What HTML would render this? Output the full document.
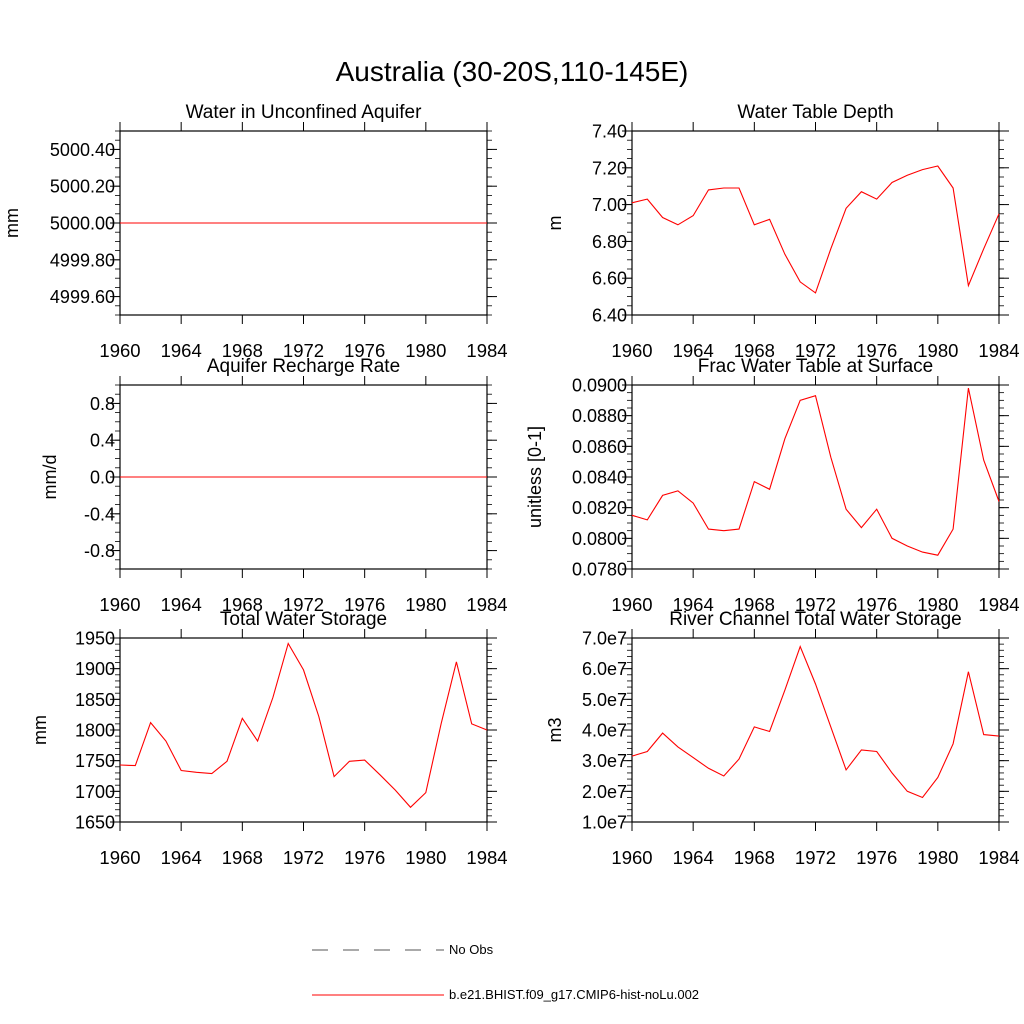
<!DOCTYPE html>
<html><head><meta charset="utf-8"><style>
body{margin:0;background:#fff}
svg{display:block;font-family:"Liberation Sans",sans-serif}
</style></head><body>
<svg id="c" width="1024" height="1024" viewBox="0 0 1024 1024">
<text x="512" y="81" font-size="28" text-anchor="middle">Australia (30-20S,110-145E)</text>
<g>
<line x1="312" y1="950" x2="444" y2="950" stroke="#555" stroke-width="1" stroke-dasharray="16,15"/>
<text x="449" y="954" font-size="13">No Obs</text>
<line x1="312" y1="995" x2="444" y2="995" stroke="#f00" stroke-width="1"/>
<text x="449" y="999" font-size="13">b.e21.BHIST.f09_g17.CMIP6-hist-noLu.002</text>
</g>
</svg>
<script>
const years=[1960,1961,1962,1963,1964,1965,1966,1967,1968,1969,1970,1971,1972,1973,1974,1975,1976,1977,1978,1979,1980,1981,1982,1983,1984];
const xTicks=[1960,1964,1968,1972,1976,1980,1984];
const aquiferVals=years.map(()=>5000.0);
const rechargeVals=years.map(()=>0.0);
const wtdVals=[7.01,7.03,6.93,6.89,6.94,7.08,7.09,7.09,6.89,6.92,6.73,6.58,6.52,6.76,6.98,7.07,7.03,7.12,7.16,7.19,7.21,7.09,6.56,6.76,6.95];
const fracVals=[0.0815,0.0812,0.0828,0.0831,0.0823,0.0806,0.0805,0.0806,0.0837,0.0832,0.0865,0.0890,0.0893,0.0853,0.0819,0.0807,0.0819,0.0800,0.0795,0.0791,0.0789,0.0806,0.0898,0.0851,0.0824];
const twsVals=[1743,1742,1812,1782,1734,1731,1729,1749,1819,1782,1853,1941,1898,1822,1724,1749,1751,1727,1702,1674,1698,1810,1911,1810,1800];
const riverVals=[3.15e7,3.3e7,3.9e7,3.45e7,3.1e7,2.75e7,2.5e7,3.05e7,4.1e7,3.95e7,5.3e7,6.72e7,5.5e7,4.1e7,2.7e7,3.35e7,3.3e7,2.6e7,2.0e7,1.8e7,2.45e7,3.55e7,5.9e7,3.85e7,3.8e7];
const aquiferTicks=["4999.60","4999.80","5000.00","5000.20","5000.40"];
const rechargeTicks=["-0.8","-0.4","0.0","0.4","0.8"];
const wtdTicks=["6.40","6.60","6.80","7.00","7.20","7.40"];
const fracTicks=["0.0780","0.0800","0.0820","0.0840","0.0860","0.0880","0.0900"];
const twsTicks=["1650","1700","1750","1800","1850","1900","1950"];
const riverTicks=["1.0e7","2.0e7","3.0e7","4.0e7","5.0e7","6.0e7","7.0e7"];

const panels=[
 {name:"aquifer",title:"Water in Unconfined Aquifer",ylab:"mm",x0:120,y0:131,min:4999.5,max:5000.5,tv:[4999.6,4999.8,5000,5000.2,5000.4],tl:aquiferTicks,minor:0.05,vals:aquiferVals,lx:10},
 {name:"wtd",title:"Water Table Depth",ylab:"m",x0:632,y0:131,min:6.4,max:7.4,tv:[6.4,6.6,6.8,7.0,7.2,7.4],tl:wtdTicks,minor:0.05,vals:wtdVals,lx:553},
 {name:"recharge",title:"Aquifer Recharge Rate",ylab:"mm/d",x0:120,y0:385,min:-1,max:1,tv:[-0.8,-0.4,0,0.4,0.8],tl:rechargeTicks,minor:0.1,vals:rechargeVals,lx:48},
 {name:"frac",title:"Frac Water Table at Surface",ylab:"unitless [0-1]",x0:632,y0:385,min:0.078,max:0.090,tv:[0.078,0.080,0.082,0.084,0.086,0.088,0.090],tl:fracTicks,minor:0.0005,vals:fracVals,lx:533},
 {name:"tws",title:"Total Water Storage",ylab:"mm",x0:120,y0:638,min:1650,max:1950,tv:[1650,1700,1750,1800,1850,1900,1950],tl:twsTicks,minor:10,vals:twsVals,lx:38},
 {name:"river",title:"River Channel Total Water Storage",ylab:"m3",x0:632,y0:638,min:1e7,max:7e7,tv:[1e7,2e7,3e7,4e7,5e7,6e7,7e7],tl:riverTicks,minor:0.2e7,vals:riverVals,lx:553}
];
const W=367,H=184,NS="http://www.w3.org/2000/svg";
const svg=document.getElementById('c');
function mk(t,a,p){const e=document.createElementNS(NS,t);for(const k in a)e.setAttribute(k,a[k]);(p||svg).appendChild(e);return e;}
panels.forEach(p=>{
 const g=mk('g',{});
 
 
 const xs=v=>p.x0+(v-1960)/24*W;
 const ys=v=>p.y0+H-(v-p.min)/(p.max-p.min)*H;
 const fr=mk('rect',{x:p.x0,y:p.y0,width:W,height:H,fill:'none',stroke:'#000','stroke-width':1.2},g);
 
 
 const t=mk('text',{x:p.x0+W/2,y:p.y0-13,'font-size':19,'text-anchor':'middle'},g);t.textContent=p.title;
 
 
 const yl=mk('text',{x:p.lx+8,y:p.y0+H/2,'font-size':18,'text-anchor':'middle',transform:`rotate(-90 ${p.lx+8} ${p.y0+H/2})`},g);yl.textContent=p.ylab;
 
 
 xTicks.forEach(v=>{const x=xs(v);
  mk('line',{x1:x,y1:p.y0+H,x2:x,y2:p.y0+H+9,stroke:'#000'},g);
  mk('line',{x1:x,y1:p.y0,x2:x,y2:p.y0-9,stroke:'#000'},g);
  const l=mk('text',{x:x,y:p.y0+H+42,'font-size':18.5,'text-anchor':'middle'},g);l.textContent=v;
  
  
 });
 const n=Math.round((p.max-p.min)/p.minor);
 for(let i=0;i<=n;i++){const y=ys(p.min+i*p.minor);
  mk('line',{x1:p.x0,y1:y,x2:p.x0-5,y2:y,stroke:'#000','stroke-width':0.8},g);
  mk('line',{x1:p.x0+W,y1:y,x2:p.x0+W+5,y2:y,stroke:'#000','stroke-width':0.8},g);}
 p.tv.forEach((v,i)=>{const y=ys(v);
  mk('line',{x1:p.x0,y1:y,x2:p.x0-10,y2:y,stroke:'#000'},g);
  mk('line',{x1:p.x0+W,y1:y,x2:p.x0+W+10,y2:y,stroke:'#000'},g);
  const l=mk('text',{x:p.x0-5,y:y+6.5,'font-size':18,'text-anchor':'end'},g);l.textContent=p.tl[i];
  
  
 });
 const pts=p.vals.map((v,i)=>xs(years[i]).toFixed(1)+','+ys(v).toFixed(1)).join(' ');
 const ln=mk('polyline',{points:pts,fill:'none',stroke:'#f00','stroke-width':1.1},g);
 
 
});
</script>
</body></html>
